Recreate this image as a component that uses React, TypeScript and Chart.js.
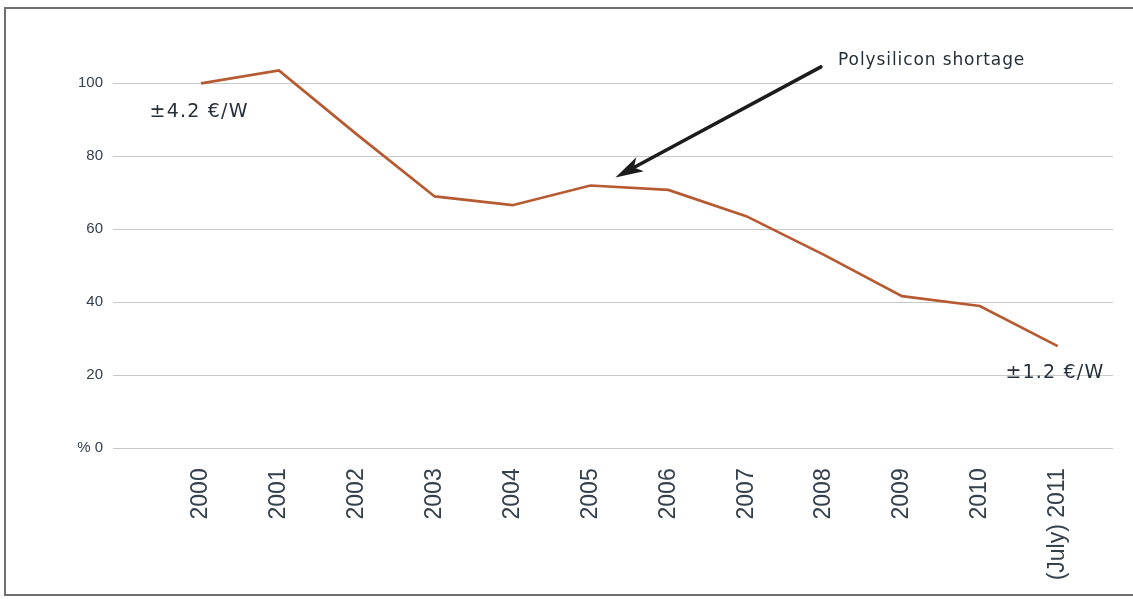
import React, { useEffect, useRef } from "react";
import { Chart, registerables } from "chart.js";

Chart.register(...registerables);

// Module price index (% of 2000 level)
const yearLabels = [
  "2000", "2001", "2002", "2003", "2004", "2005",
  "2006", "2007", "2008", "2009", "2010", "(July) 2011",
];
const priceIndex = [100, 103.5, 86, 69, 66.6, 72, 70.8, 63.6, 53, 41.7, 39, 28];
const yTickValues = [0, 20, 40, 60, 80, 100];

// Annotation anchors in data units
const startLabel = { text: "±4.2 €/W", x: -0.66, y: 92.2 };
const endLabel = { text: "±1.2 €/W", x: 11.6, y: 20.6 };
const noteLabel = { text: "Polysilicon shortage", x: 8.18, y: 106.2 };
const noteArrowTail = { x: 7.96, y: 104.5 };
const noteArrowTarget = 5; // index of the year the arrow points at

const TICK_COLOR = "#34404c";
const TEXT_COLOR = "#26303a";

const annotationPlugin = {
  id: "priceNotes",
  afterDatasetsDraw(chart: any) {
    const { ctx, scales } = chart;
    const xs = scales.x;
    const ys = scales.y;
    const px = (v: number) => xs.getPixelForValue(v);
    const py = (v: number) => ys.getPixelForValue(v);

    ctx.save();
    ctx.fillStyle = TEXT_COLOR;
    ctx.textBaseline = "middle";
    ctx.font = "19px 'DejaVu Sans'";
    (ctx as any).letterSpacing = "1.2px";
    ctx.textAlign = "left";
    ctx.fillText(startLabel.text, px(startLabel.x), py(startLabel.y));
    ctx.textAlign = "right";
    ctx.fillText(endLabel.text, px(endLabel.x), py(endLabel.y));

    ctx.font = "17px 'DejaVu Sans'";
    (ctx as any).letterSpacing = "0.9px";
    ctx.textAlign = "left";
    ctx.fillText(noteLabel.text, px(noteLabel.x), py(noteLabel.y));
    (ctx as any).letterSpacing = "0px";

    // arrow from the note down to the 2005 peak
    const tx = px(noteArrowTail.x);
    const ty = py(noteArrowTail.y);
    const hx = px(noteArrowTarget) + 25;
    const hy = py(priceIndex[noteArrowTarget]) - 8;
    const ang = Math.atan2(hy - ty, hx - tx);
    const headLen = 28;
    const headHalf = 8;
    const bx = hx - headLen * Math.cos(ang);
    const by = hy - headLen * Math.sin(ang);
    ctx.strokeStyle = "#1c1c1c";
    ctx.lineWidth = 3.5;
    ctx.lineCap = "round";
    ctx.beginPath();
    ctx.moveTo(tx, ty);
    ctx.lineTo(bx + 6 * Math.cos(ang), by + 6 * Math.sin(ang));
    ctx.stroke();
    ctx.fillStyle = "#1c1c1c";
    ctx.beginPath();
    ctx.moveTo(hx, hy);
    ctx.lineTo(bx + headHalf * Math.sin(ang), by - headHalf * Math.cos(ang));
    ctx.lineTo(bx + 7 * Math.cos(ang), by + 7 * Math.sin(ang));
    ctx.lineTo(bx - headHalf * Math.sin(ang), by + headHalf * Math.cos(ang));
    ctx.closePath();
    ctx.fill();
    ctx.restore();
  },
};

export default function App() {
  const canvasRef = useRef<HTMLCanvasElement | null>(null);

  useEffect(() => {
    if (!canvasRef.current) return;
    const chart = new Chart(canvasRef.current, {
      type: "line",
      data: {
        datasets: [
          {
            data: priceIndex.map((v, i) => ({ x: i, y: v })),
            borderColor: "#b65a32",
            borderWidth: 2.7,
            pointRadius: 0,
            tension: 0,
            fill: false,
          },
        ],
      },
      options: {
        animation: false,
        responsive: false,
        maintainAspectRatio: false,
        layout: { padding: { top: 46.8, right: 20, bottom: 0, left: 0 } },
        plugins: { legend: { display: false }, tooltip: { enabled: false } },
        scales: {
          x: {
            type: "linear",
            min: -1.13,
            max: 11.71,
            afterBuildTicks: (scale: any) => {
              scale.ticks = yearLabels.map((_, i) => ({ value: i }));
            },
            afterFit: (scale: any) => {
              scale.height = 150.7;
            },
            grid: { display: false, drawTicks: false },
            border: { display: false },
            ticks: {
              autoSkip: false,
              minRotation: 90,
              maxRotation: 90,
              padding: 20,
              color: TICK_COLOR,
              font: { family: "'Liberation Sans', Arial, sans-serif", size: 23 },
              callback: (v: any) => yearLabels[v] ?? "",
            },
          },
          y: {
            min: 0,
            max: 110,
            afterBuildTicks: (scale: any) => {
              scale.ticks = yTickValues.map((v) => ({ value: v }));
            },
            afterFit: (scale: any) => {
              scale.width = 113;
            },
            grid: { color: "#c8c8c8", lineWidth: 1, drawTicks: false },
            border: { display: false },
            ticks: {
              padding: 10,
              color: TICK_COLOR,
              font: { family: "'Liberation Sans', Arial, sans-serif", size: 15 },
              callback: (v: any) => (v === 0 ? "% 0" : String(v)),
            },
          },
        },
      },
      plugins: [annotationPlugin],
    } as any);
    return () => chart.destroy();
  }, []);

  return (
    <div
      style={{
        position: "fixed",
        left: 0,
        top: 0,
        width: 1133,
        height: 599,
        background: "#ffffff",
        overflow: "hidden",
      }}
    >
      <div
        style={{
          position: "absolute",
          left: 4,
          top: 7,
          width: 1140,
          height: 589,
          border: "2px solid #6f6f6f",
          boxSizing: "border-box",
        }}
      />
      <canvas
        ref={canvasRef}
        width={1133}
        height={599}
        style={{ position: "absolute", left: 0, top: 0 }}
      />
    </div>
  );
}
